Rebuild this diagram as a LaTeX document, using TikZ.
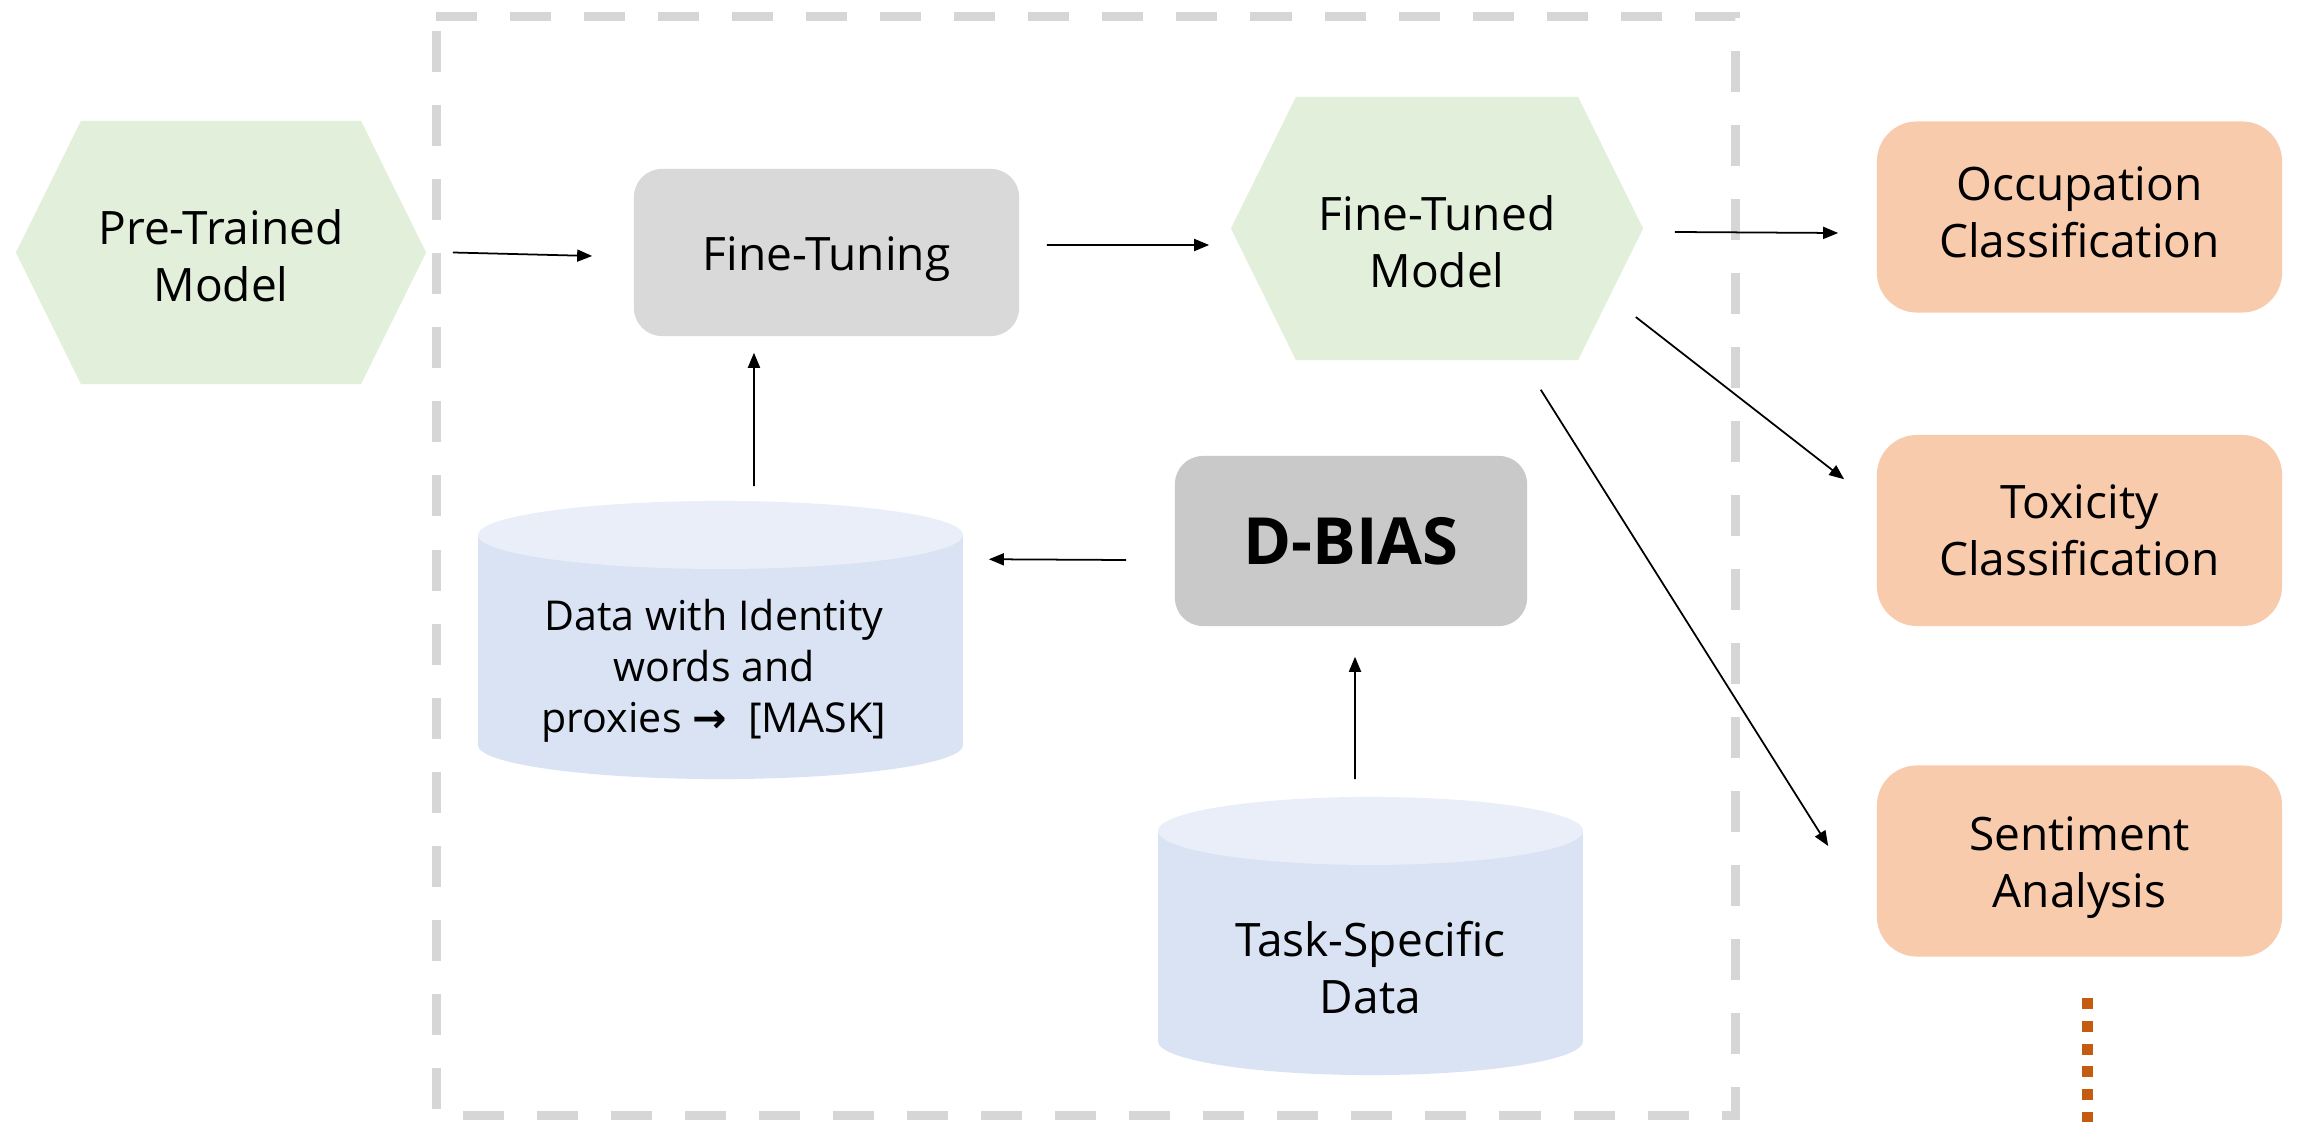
\documentclass[tikz,border=0pt]{standalone}
\usepackage{fontspec}
\setmainfont{Open Sans}
\newfontfamily\arrowfont{DejaVu Sans}
\usetikzlibrary{arrows.meta,calc}

\definecolor{hexgreen}{HTML}{E2EFDA}
\definecolor{tunegray}{HTML}{D9D9D9}
\definecolor{biasgray}{HTML}{C9C9C9}
\definecolor{peach}{HTML}{F8CBAD}
\definecolor{cylbody}{HTML}{DAE3F3}
\definecolor{cyltop}{HTML}{E9EEF8}
\definecolor{framegray}{HTML}{D6D6D6}
\definecolor{dotorange}{HTML}{C55A11}

\begin{document}
\begin{tikzpicture}[x=0.01cm,y=-0.01cm,
  lbl/.style={font=\fontsize{13.1}{16.2}\selectfont, align=center},
  hexnode/.style={minimum width=#1, minimum height=2.63cm, inner sep=0pt,
    path picture={\fill[hexgreen]
      (path picture bounding box.west)
      -- ([xshift=0.65cm]path picture bounding box.north west)
      -- ([xshift=-0.65cm]path picture bounding box.north east)
      -- (path picture bounding box.east)
      -- ([xshift=-0.65cm]path picture bounding box.south east)
      -- ([xshift=0.65cm]path picture bounding box.south west) -- cycle;}},
  gbox/.style={fill=#1, rounded corners=0.28cm, inner sep=0pt},
  obox/.style={fill=peach, rounded corners=0.4cm, minimum width=4.05cm,
    minimum height=1.91cm, inner sep=0pt},
  cyl/.style={minimum width=#1, minimum height=2.78cm, inner sep=0pt,
    path picture={
      \fill[cylbody] ([yshift=-0.34cm]path picture bounding box.north west)
        rectangle ([yshift=0.34cm]path picture bounding box.south east);
      \fill[cylbody] let \p1=(path picture bounding box.west),
          \p2=(path picture bounding box.center) in
        ([yshift=0.34cm]path picture bounding box.south) ellipse ({\x2-\x1} and 0.34cm);
      \fill[cyltop] let \p1=(path picture bounding box.west),
          \p2=(path picture bounding box.center) in
        ([yshift=-0.34cm]path picture bounding box.north) ellipse ({\x2-\x1} and 0.34cm);}},
  arr/.style={line width=0.5pt, -{Triangle[length=0.15cm,width=0.12cm]}},
  dashframe/.style={draw=framegray, line width=0.09cm, dash pattern=on 0.41cm off 0.33cm},
  moredots/.style={draw=dotorange, line width=0.11cm, dash pattern=on 0.11cm off 0.117cm},
]
\useasboundingbox (0,0) rectangle (2300,1122);

% dashed frame around the fine-tuning stage
\draw[dashframe] (436,17) -- (1735,17) -- (1735,1115) -- (436,1115) -- cycle;

% models
\node[hexnode=4.1cm] (pt) at (221,252.5) {};
\node[lbl] (pttxt) at ([yshift=-0.03cm]pt.center) {Pre-Trained\\Model};
\node[hexnode=4.12cm] (fmd) at (1437,228.5) {};
\node[lbl] (fmdtxt) at ([yshift=-0.135cm]fmd.center) {Fine-Tuned\\Model};

% processing boxes
\node[gbox=tunegray, minimum width=3.85cm, minimum height=1.67cm] (ftn) at (826.5,252.5) {};
\node[lbl] (ftntxt) at ([yshift=-0.07cm]ftn.center) {Fine-Tuning};
\node[gbox=biasgray, minimum width=3.52cm, minimum height=1.70cm] (dbias) at (1351,541) {};
\node[font=\fontsize{18.5}{22}\selectfont\bfseries] (dbiastxt) at (dbias.center) {D-BIAS};

% data stores
\node[cyl=4.85cm] (data) at (720.5,640) {};
\node[lbl, font=\fontsize{11.7}{14.5}\selectfont] (datatxt) at ([xshift=-0.065cm,yshift=-0.31cm]data.center)
  {Data with Identity\\words and\\proxies {\arrowfont\bfseries →}\ \ [MASK]};
\node[cyl=4.25cm] (task) at (1370.5,936) {};
\node[lbl] (tasktxt) at ([yshift=-0.32cm]task.center) {Task-Specific\\Data};

% downstream tasks
\node[obox] (occ) at (2079.5,217) {};
\node[lbl] (occtxt) at ([yshift=0.045cm]occ.center) {Occupation\\Classification};
\node[obox] (tox) at (2079.5,530.5) {};
\node[lbl] (toxtxt) at (tox.center) {Toxicity\\Classification};
\node[obox] (sen) at (2079.5,861) {};
\node[lbl] (sentxt) at ([yshift=-0.07cm]sen.center) {Sentiment\\Analysis};

% connectors
\draw[arr] ([xshift=0.26cm]pt.east) -- ([xshift=-0.41cm,yshift=-0.035cm]ftn.west);
\draw[arr] ([xshift=0.27cm,yshift=0.075cm]ftn.east) -- ([xshift=-0.21cm,yshift=-0.165cm]fmd.west);
\draw[arr] ([xshift=0.31cm,yshift=-0.035cm]fmd.east) -- ([xshift=-0.38cm,yshift=-0.16cm]occ.west);
\draw[arr] ([xshift=-0.08cm,yshift=-0.885cm]fmd.east) -- ([xshift=-0.32cm,yshift=-0.45cm]tox.north west);
\draw[arr] ([xshift=-1.03cm,yshift=-0.29cm]fmd.south east) -- ([xshift=-0.48cm,yshift=0.15cm]sen.west);
\draw[arr] ([xshift=0.335cm,yshift=0.14cm]data.north) -- ([xshift=-0.725cm,yshift=-0.16cm]ftn.south);
\draw[arr] ([xshift=-0.48cm,yshift=-0.19cm]dbias.west) -- ([xshift=0.25cm,yshift=-0.59cm]data.north east);
\draw[arr] ([xshift=-0.155cm,yshift=0.17cm]task.north) -- ([xshift=0.04cm,yshift=-0.30cm]dbias.south);

% further tasks continue below
\draw[moredots] ([xshift=0.075cm,yshift=-0.41cm]sen.south) -- ++(0,125);
\end{tikzpicture}
\end{document}
